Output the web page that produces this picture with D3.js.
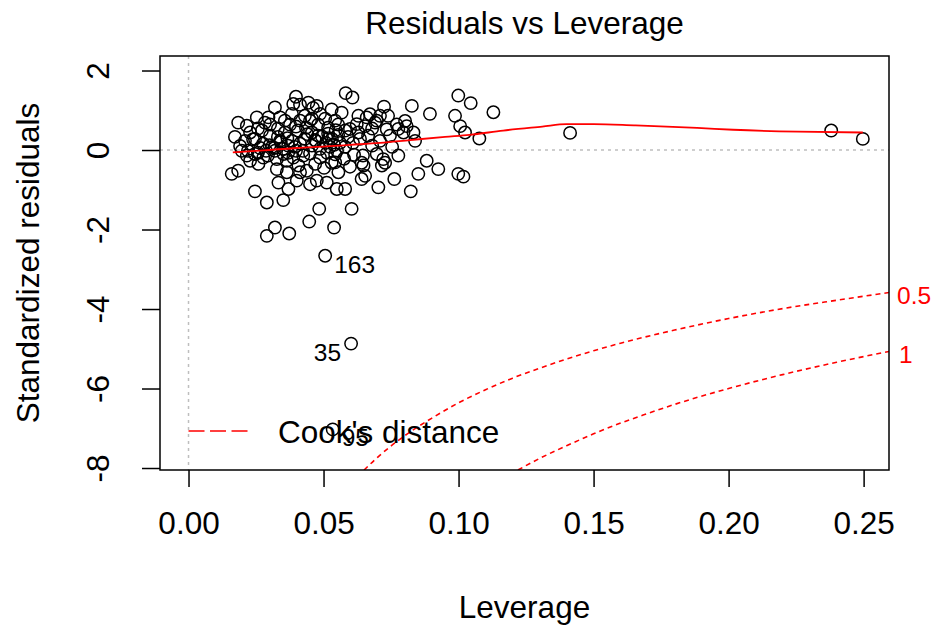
<!DOCTYPE html>
<html>
<head>
<meta charset="utf-8">
<script src="https://cdn.jsdelivr.net/npm/d3@7"></script>
<style>
  html, body { margin: 0; padding: 0; background: #ffffff; }
  svg { display: block; font-family: "Liberation Sans", Arial, sans-serif; }
</style>
</head>
<body>
<svg id="chart" width="933" height="628"></svg>
<script>
// ---------- data ----------
const leverage = [
  0.0582,0.0607,0.0398,0.0388,0.0413,0.0320,0.0444,0.0475,0.0461,0.0530,
  0.0567,0.0253,0.0296,0.0339,0.0184,0.0216,0.0302,0.0629,0.0672,0.0709,
  0.0739,0.0697,0.0660,0.0623,0.0691,0.0654,0.0734,0.0629,0.0598,0.0827,
  0.0894,0.0999,0.1045,0.0987,0.1006,0.1024,0.1077,0.1129,0.1413,0.2380,
  0.2497,0.0771,0.0802,0.0808,0.0796,0.0833,0.0839,0.0777,0.0724,0.0487,
  0.0506,0.0543,0.0450,0.0480,0.0517,0.0554,0.0580,0.0457,0.0494,0.0531,
  0.0561,0.0431,0.0405,0.0376,0.0357,0.0331,0.0383,0.0339,0.0302,0.0272,
  0.0246,0.0276,0.0309,0.0350,0.0394,0.0424,0.0457,0.0487,0.0524,0.0550,
  0.0580,0.0609,0.0635,0.0665,0.0209,0.0191,0.0239,0.0172,0.0220,0.0257,
  0.0294,0.0197,0.0216,0.0246,0.0277,0.0259,0.0327,0.0364,0.0388,0.0425,
  0.0407,0.0438,0.0327,0.0364,0.0333,0.0370,0.0401,0.0450,0.0475,0.0512,
  0.0549,0.0555,0.0543,0.0413,0.0160,0.0184,0.0246,0.0290,0.0351,0.0290,
  0.0320,0.0373,0.0447,0.0484,0.0539,0.0604,0.0506,0.0602,0.0534,0.0648,
  0.0716,0.0654,0.0641,0.0703,0.0762,0.0851,0.0925,0.0999,0.1018,0.0823,
  0.0882,0.0777,0.0646,0.0697,0.0721,0.0728,0.0641,0.0543,0.0530,0.0580,
  0.0431,0.0457,0.0413,0.0383,0.0357,0.0398,0.0435,0.0480,0.0517,0.0554,
  0.0591,0.0509,0.0539,0.0472,0.0413,0.0369,0.0320,0.0369,0.0398,0.0450,
  0.0487,0.0513,0.0469,0.0502,0.0576,0.0598,0.0613,0.0283,0.0257,0.0228,
  0.0331,0.0287,0.0228,0.0680,0.0709,0.0746,0.0680,0.0754,
  0.0300,0.0318,0.0342,0.0366,0.0440,0.0468,0.0520,0.0545,0.0265,0.0352
];
const stdResiduals = [
  1.43,1.32,1.34,1.16,1.14,1.07,1.19,1.11,1.06,1.02,
  0.94,0.82,0.82,0.82,0.69,0.61,0.64,0.86,0.90,0.86,
  0.86,0.74,0.82,0.65,0.69,0.60,0.52,0.44,0.53,1.11,
  0.91,1.37,1.18,0.86,0.60,0.44,0.29,0.95,0.43,0.49,
  0.28,0.64,0.73,0.60,0.44,0.44,0.23,0.53,1.09,0.91,
  0.79,0.74,0.74,0.64,0.56,0.64,0.49,0.44,0.34,0.28,
  0.18,0.28,0.49,0.64,0.44,0.54,0.23,0.23,0.36,0.49,
  0.28,0.16,0.08,0.03,0.08,-0.02,0.11,0.03,0.08,-0.02,
  0.08,0.18,0.28,0.36,0.23,0.10,0.27,0.33,-0.02,-0.07,
  -0.14,-0.02,-0.14,-0.10,-0.19,-0.35,-0.23,-0.27,-0.19,-0.14,
  -0.39,-0.52,-0.48,-0.56,-0.82,-0.98,-0.77,-0.86,-0.77,-0.82,
  -0.98,-0.56,-0.31,-0.56,-0.60,-0.52,-1.04,-1.32,-1.26,-2.16,
  -1.95,-2.10,-1.80,-1.48,-1.95,-1.48,-2.66,-4.87,-7.03,-0.39,
  -0.39,-0.65,-0.73,-0.94,-0.73,-0.60,-0.48,-0.60,-0.67,-1.04,
  -0.27,-0.14,-0.14,-0.10,-0.23,-0.32,-0.32,-0.11,-0.32,-0.98,
  0.86,0.79,0.74,0.91,0.74,0.59,0.56,0.36,0.41,0.38,
  0.33,0.18,0.13,0.23,0.16,0.11,-0.02,-0.07,-0.02,-0.09,
  -0.19,-0.07,-0.35,-0.45,-0.22,-0.42,-0.12,0.69,0.54,0.44,
  0.33,-0.02,-0.27,0.11,0.23,0.36,0.54,0.08,
  0.12,0.05,0.20,0.30,0.40,0.25,0.30,0.50,0.05,-0.10
];
// labelled observations: [index into arrays, label, side]
const idLabels = [[126, "163", "right"], [127, "35", "left"], [128, "95", "right"]];

// lowess smoother as seen in the picture
const smoothLev = [0.0164,0.025,0.030,0.040,0.051,0.060,0.071,0.082,0.095,0.104,0.1165,0.131,0.140,0.150,0.165,0.177,0.190,0.2017,0.2257,0.2497];
const smoothRes = [-0.06,-0.02,0.00,0.05,0.09,0.13,0.18,0.25,0.33,0.38,0.49,0.59,0.65,0.65,0.62,0.59,0.55,0.51,0.46,0.44];

// Cook's distance contours (lower branches)
const cook05Lev = [0.065,0.07,0.08,0.09,0.10,0.11,0.12,0.13,0.14,0.15,0.16,0.18,0.20,0.22,0.24,0.26];
const cook05Res = [-8.05,-7.73,-7.19,-6.75,-6.36,-6.03,-5.74,-5.49,-5.26,-5.05,-4.86,-4.53,-4.24,-3.99,-3.78,-3.58];
const cook1Lev = [0.122,0.13,0.14,0.15,0.16,0.17,0.18,0.20,0.22,0.24,0.26];
const cook1Res = [-8.05,-7.76,-7.44,-7.14,-6.87,-6.63,-6.40,-6.00,-5.65,-5.34,-5.06];
const cookLevels = ["0.5", "1"];

const xTicks = [0.00, 0.05, 0.10, 0.15, 0.20, 0.25];
const yTicks = [2, 0, -2, -4, -6, -8];

const title = "Residuals vs Leverage";
const xLabel = "Leverage";
const yLabel = "Standardized residuals";
const legendLabel = "Cook's distance";

// ---------- layout ----------
const plot = { left: 160, right: 889, top: 56, bottom: 470 };
const FS = 31.5, FSid = 24.5;

const svg = d3.select("#chart");

const x = d3.scaleLinear().domain([-0.01056, 0.2594]).range([plot.left, plot.right]);
const y = d3.scaleLinear().domain([-8.05, 2.365]).range([plot.bottom, plot.top]);

svg.append("defs").append("clipPath").attr("id", "clip")
  .append("rect").attr("x", plot.left).attr("y", plot.top)
  .attr("width", plot.right - plot.left).attr("height", plot.bottom - plot.top);

const g = svg.append("g").attr("clip-path", "url(#clip)");

// reference dotted lines
g.append("line").attr("x1", plot.left).attr("x2", plot.right)
  .attr("y1", y(0)).attr("y2", y(0))
  .attr("stroke", "#bebebe").attr("stroke-width", 1.5).attr("stroke-dasharray", "3,4");
g.append("line").attr("x1", x(0)).attr("x2", x(0))
  .attr("y1", plot.top).attr("y2", plot.bottom)
  .attr("stroke", "#bebebe").attr("stroke-width", 1.5).attr("stroke-dasharray", "3,4");

// Cook's contours
const cookLine = d3.line().x(d => x(d[0])).y(d => y(d[1])).curve(d3.curveMonotoneX);
[[cook05Lev, cook05Res], [cook1Lev, cook1Res]].forEach(([hs, rs]) => {
  g.append("path").datum(hs.map((h, i) => [h, rs[i]]))
    .attr("d", cookLine).attr("fill", "none").attr("stroke", "#ff0000")
    .attr("stroke-width", 1.6).attr("stroke-dasharray", "5,4");
});

// points
g.selectAll("circle.pt").data(leverage.map((h, i) => [h, stdResiduals[i]]))
  .enter().append("circle").attr("class", "pt")
  .attr("cx", d => x(d[0])).attr("cy", d => y(d[1])).attr("r", 6.2)
  .attr("fill", "none").attr("stroke", "#000").attr("stroke-width", 1.5);

// smoother
g.append("path").datum(smoothLev.map((h, i) => [h, smoothRes[i]]))
  .attr("d", d3.line().x(d => x(d[0])).y(d => y(d[1])).curve(d3.curveMonotoneX))
  .attr("fill", "none").attr("stroke", "#ff0000").attr("stroke-width", 1.8);

// id labels
idLabels.forEach(([i, lab, side]) => {
  const px = x(leverage[i]), py = y(stdResiduals[i]);
  svg.append("text")
    .attr("x", side === "right" ? px + 9 : px - 10)
    .attr("y", py + 17)
    .attr("text-anchor", side === "right" ? "start" : "end")
    .attr("font-size", FSid).attr("fill", "#000").text(lab);
});

// legend
svg.append("line").attr("x1", x(0)).attr("x2", x(0) + 59)
  .attr("y1", 431).attr("y2", 431)
  .attr("stroke", "#ff0000").attr("stroke-width", 1.6).attr("stroke-dasharray", "16,5.5");
svg.append("text").attr("x", 278).attr("y", 443)
  .attr("font-size", FS).attr("fill", "#000").text(legendLabel);

// box
svg.append("rect").attr("x", plot.left).attr("y", plot.top)
  .attr("width", plot.right - plot.left).attr("height", plot.bottom - plot.top)
  .attr("fill", "none").attr("stroke", "#000").attr("stroke-width", 1.5);

// x axis
const xAxis = svg.append("g").attr("transform", `translate(0,${plot.bottom})`)
  .call(d3.axisBottom(x).tickValues(xTicks).tickFormat(d3.format(".2f"))
    .tickSize(17).tickSizeOuter(0).tickPadding(25));
xAxis.select(".domain").remove();
xAxis.selectAll("line").attr("stroke", "#000").attr("stroke-width", 1.5);
xAxis.selectAll("text").attr("font-size", FS).attr("fill", "#000")
  .attr("font-family", "Liberation Sans, Arial, sans-serif");

// y axis
const yAxis = svg.append("g").attr("transform", `translate(${plot.left},0)`)
  .call(d3.axisLeft(y).tickValues(yTicks).tickFormat(d => String(d))
    .tickSize(18).tickSizeOuter(0));
yAxis.select(".domain").remove();
yAxis.selectAll("line").attr("stroke", "#000").attr("stroke-width", 1.5);
yAxis.selectAll("text").attr("font-size", FS).attr("fill", "#000")
  .attr("font-family", "Liberation Sans, Arial, sans-serif")
  .attr("x", 0).attr("dy", "0.35em").attr("text-anchor", "middle")
  .attr("transform", "translate(-62,0) rotate(-90)");

// right-side Cook's level labels
svg.append("text").attr("x", 897).attr("y", y(cook05Res[cook05Res.length - 1]) + 12)
  .attr("font-size", FSid).attr("fill", "#ff0000").text(cookLevels[0]);
svg.append("text").attr("x", 899).attr("y", y(cook1Res[cook1Res.length - 1]) + 12)
  .attr("font-size", FSid).attr("fill", "#ff0000").text(cookLevels[1]);

// titles
svg.append("text").attr("x", (plot.left + plot.right) / 2).attr("y", 34)
  .attr("text-anchor", "middle").attr("font-size", FS).attr("fill", "#000").text(title);
svg.append("text").attr("x", (plot.left + plot.right) / 2).attr("y", 618)
  .attr("text-anchor", "middle").attr("font-size", FS).attr("fill", "#000").text(xLabel);
svg.append("text").attr("transform", `translate(39,${(plot.top + plot.bottom) / 2}) rotate(-90)`)
  .attr("text-anchor", "middle").attr("font-size", FS).attr("fill", "#000").text(yLabel);
</script>
</body>
</html>
